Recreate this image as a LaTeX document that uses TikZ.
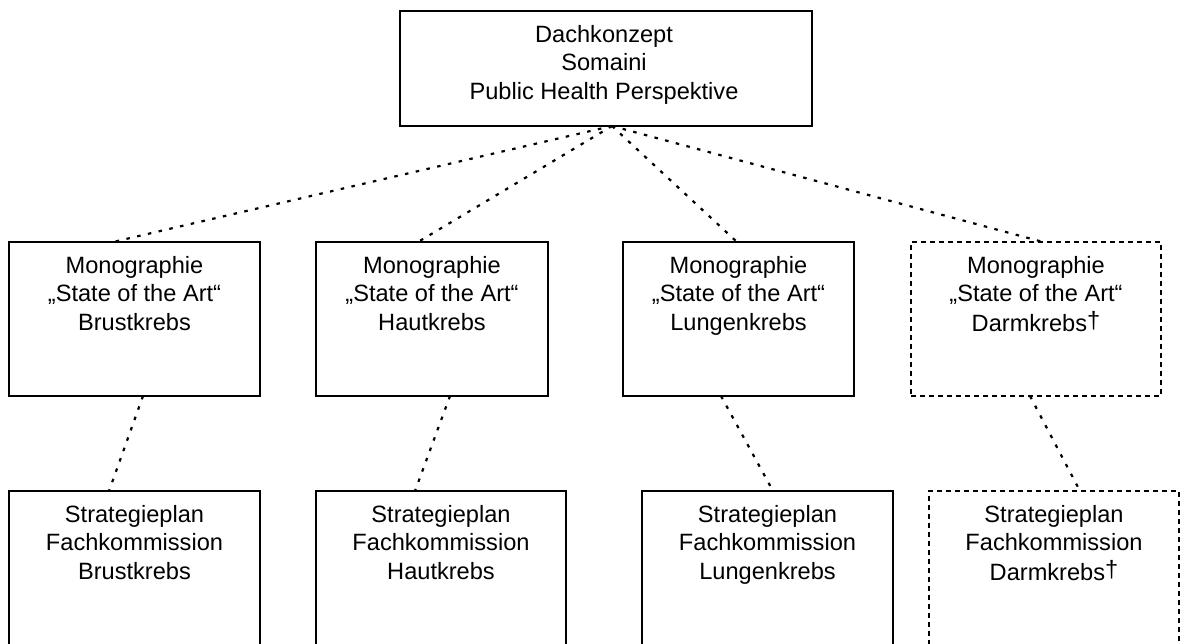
\documentclass[tikz,border=0pt]{standalone}
\usepackage{fontspec}
\setmainfont{Liberation Sans}
\begin{document}
\begin{tikzpicture}[x=1pt,y=-1pt,
  box/.style={draw=black, line width=1.8pt, rectangle, inner sep=0pt, outer sep=0pt, anchor=north west},
  dbox/.style={box, dash pattern=on 5pt off 4pt},
  lbl/.style={align=center, inner sep=0pt, anchor=north, font=\fontsize{23.6}{28.5}\selectfont},
  conn/.style={line width=2.2pt, dash pattern=on 3.5pt off 7.5pt}]
\useasboundingbox (0,0) rectangle (1181,643);
\begin{scope}
\clip (0,0) rectangle (1181,643);
% top box
\node[box, minimum width=412pt, minimum height=115pt] (top) at (400,11) {};
% row 2
\node[box, minimum width=251pt, minimum height=154pt] (b1) at (9,242) {};
\node[box, minimum width=232pt, minimum height=154pt] (b2) at (316,242) {};
\node[box, minimum width=231pt, minimum height=154pt] (b3) at (623,242) {};
\node[dbox, minimum width=250pt, minimum height=154pt] (b4) at (911,242) {};
% row 3
\node[box, minimum width=251pt, minimum height=170pt] (s1) at (9,491) {};
\node[box, minimum width=250pt, minimum height=170pt] (s2) at (316,491) {};
\node[box, minimum width=251pt, minimum height=170pt] (s3) at (642,491) {};
\node[dbox, minimum width=250pt, minimum height=170pt] (s4) at (929,491) {};
\end{scope}
% labels
\newcommand{\dg}{\raisebox{3pt}{\fontsize{23.6}{23.6}\selectfont †}}
\node[lbl] (topt) at (604,0) [yshift=-22] {\strut Dachkonzept\\\strut Somaini\\\strut Public Health Perspektive};
\node[lbl] (b1t) at ([yshift=-11]b1.north) {\strut Monographie\\\strut „State of the Art“\\\strut Brustkrebs};
\node[lbl] (b2t) at ([yshift=-11]b2.north) {\strut Monographie\\\strut „State of the Art“\\\strut Hautkrebs};
\node[lbl] (b3t) at ([yshift=-11]b3.north) {\strut Monographie\\\strut „State of the Art“\\\strut Lungenkrebs};
\node[lbl] (b4t) at ([yshift=-11]b4.north) {\strut Monographie\\\strut „State of the Art“\\\strut Darmkrebs\dg};
\node[lbl] (s1t) at ([yshift=-11]s1.north) {\strut Strategieplan\\\strut Fachkommission\\\strut Brustkrebs};
\node[lbl] (s2t) at ([yshift=-11]s2.north) {\strut Strategieplan\\\strut Fachkommission\\\strut Hautkrebs};
\node[lbl] (s3t) at ([yshift=-11]s3.north) {\strut Strategieplan\\\strut Fachkommission\\\strut Lungenkrebs};
\node[lbl] (s4t) at ([yshift=-11]s4.north) {\strut Strategieplan\\\strut Fachkommission\\\strut Darmkrebs\dg};
% connectors
\draw[conn] ([xshift=6]top.south) -- ([xshift=-21.5]b1.north);
\draw[conn] ([xshift=6]top.south) -- ([xshift=-14]b2.north);
\draw[conn] ([xshift=6]top.south) -- ([xshift=-1.5]b3.north);
\draw[conn] ([xshift=6]top.south) -- ([xshift=7]b4.north);
\draw[conn] ([xshift=8.5]b1.south) -- ([xshift=-25.5]s1.north);
\draw[conn] ([xshift=18]b2.south) -- ([xshift=-26]s2.north);
\draw[conn] ([xshift=-17.5]b3.south) -- ([xshift=5.5]s3.north);
\draw[conn] ([xshift=-6]b4.south) -- ([xshift=26]s4.north);
\end{tikzpicture}
\end{document}
